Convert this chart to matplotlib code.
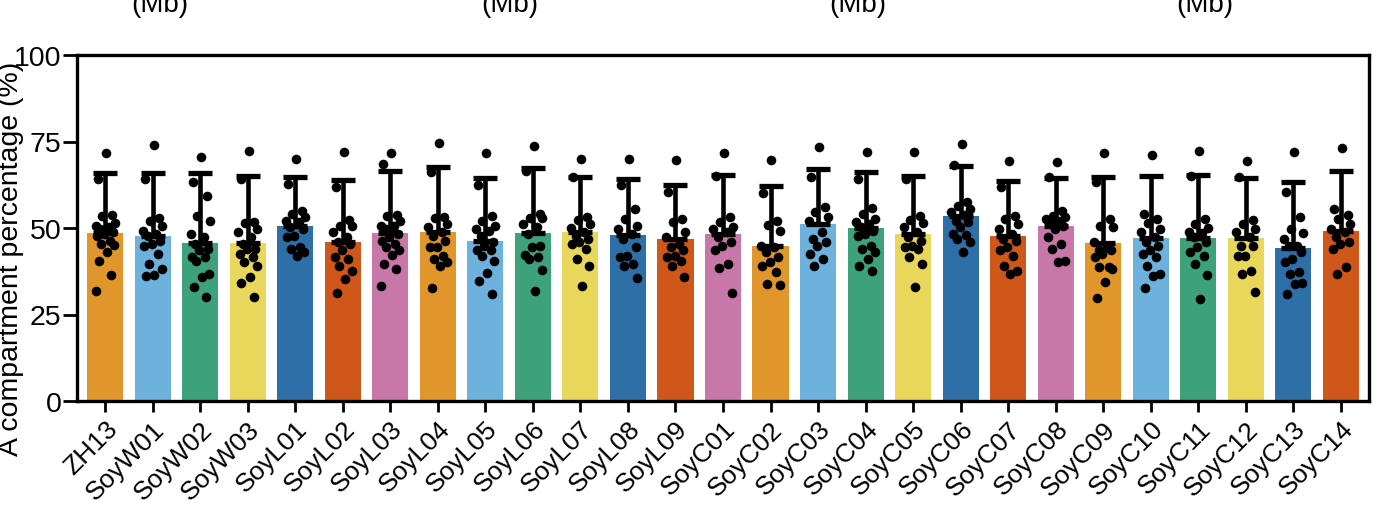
import matplotlib
matplotlib.use("Agg")
import matplotlib.pyplot as plt
import matplotlib.transforms as mtransforms
import numpy as np

plt.rcParams["font.family"] = ["Liberation Sans", "DejaVu Sans"]

samples = ["ZH13", "SoyW01", "SoyW02", "SoyW03",
           "SoyL01", "SoyL02", "SoyL03", "SoyL04", "SoyL05", "SoyL06", "SoyL07", "SoyL08", "SoyL09",
           "SoyC01", "SoyC02", "SoyC03", "SoyC04", "SoyC05", "SoyC06", "SoyC07",
           "SoyC08", "SoyC09", "SoyC10", "SoyC11", "SoyC12", "SoyC13", "SoyC14"]

# bar height (mean) and top of the error bar
means = [48.5, 47.6, 45.6, 45.6, 50.7, 46.0, 48.5, 48.7, 46.1, 48.6, 48.7, 48.0, 46.8,
         48.3, 44.8, 51.2, 50.0, 48.3, 53.4, 47.6, 50.6, 45.7, 47.0, 47.0, 47.0, 44.1, 49.2]
err_top = [65.9, 65.9, 65.9, 65.1, 64.6, 64.0, 66.4, 67.7, 64.5, 67.2, 64.6, 64.2, 62.4,
           65.3, 62.0, 67.0, 66.1, 65.1, 68.0, 63.6, 64.5, 64.6, 65.1, 65.4, 64.4, 63.4, 66.5]

# per-chromosome values for each sample (estimated dot positions)
points = [
    [71.7, 64.3, 53.7, 53.4, 51.4, 50.7, 50.2, 49.7, 48.7, 48.3, 47.8, 46.3, 45.4, 45.1, 43.2, 40.6, 36.5, 31.9],
    [74.1, 64.2, 52.8, 52.1, 50.7, 49.2, 48.3, 47.6, 46.3, 45.4, 44.9, 42.5, 39.6, 38.2, 36.5, 36.2],
    [70.4, 63.2, 59.3, 53.4, 52.1, 48.3, 47.3, 45.4, 43.9, 43.5, 41.5, 41.5, 40.6, 36.7, 35.7, 32.9, 30.0],
    [72.3, 64.2, 51.6, 51.4, 49.7, 48.7, 47.3, 45.4, 43.9, 43.9, 42.5, 41.5, 40.1, 39.1, 35.7, 34.1, 30.0],
    [69.9, 62.8, 55.0, 54.0, 53.1, 52.1, 51.6, 50.2, 49.7, 47.8, 47.3, 44.4, 44.0, 43.0, 41.8],
    [72.1, 61.8, 52.4, 50.7, 50.7, 48.7, 47.3, 45.9, 45.4, 43.5, 41.5, 41.0, 39.1, 37.5, 35.3, 31.2],
    [71.7, 68.5, 53.8, 53.4, 52.1, 50.7, 50.7, 49.7, 48.3, 47.3, 46.3, 45.4, 44.4, 43.5, 42.2, 39.6, 38.2, 33.3],
    [74.7, 66.1, 53.1, 52.8, 51.2, 50.2, 48.7, 47.8, 46.3, 44.4, 44.4, 42.0, 41.0, 40.1, 38.9, 32.6],
    [71.7, 62.4, 53.4, 52.1, 50.7, 49.7, 49.2, 47.8, 45.9, 44.9, 43.5, 43.5, 42.0, 40.6, 37.0, 34.8, 30.9],
    [73.6, 66.6, 54.0, 52.8, 52.8, 51.2, 50.2, 48.3, 44.7, 44.4, 42.2, 41.5, 40.9, 38.0, 31.7],
    [69.9, 64.6, 53.1, 52.4, 51.2, 50.0, 48.7, 47.6, 46.8, 45.9, 45.4, 43.9, 41.0, 38.9, 33.1],
    [69.9, 62.4, 55.5, 52.6, 50.7, 49.7, 48.3, 46.8, 44.4, 42.0, 41.5, 39.6, 39.1, 35.5],
    [69.6, 60.5, 52.6, 51.8, 48.7, 47.3, 45.4, 44.4, 43.5, 42.0, 41.5, 40.6, 39.1, 35.7],
    [71.7, 65.1, 53.1, 51.6, 50.2, 49.7, 48.7, 47.3, 45.9, 44.9, 43.5, 39.6, 38.4, 31.1],
    [69.6, 60.1, 52.1, 50.9, 49.2, 44.7, 44.4, 43.0, 41.5, 40.1, 39.1, 37.2, 33.8, 33.5],
    [73.3, 64.6, 56.0, 54.5, 53.1, 52.1, 48.7, 46.8, 45.9, 44.9, 42.5, 41.0, 39.1],
    [72.1, 64.3, 55.7, 54.0, 52.6, 51.6, 51.2, 50.2, 49.2, 48.3, 47.8, 44.9, 43.9, 43.0, 41.0, 39.1, 37.7],
    [72.1, 64.2, 53.4, 52.4, 51.4, 50.2, 48.7, 47.3, 46.3, 44.9, 44.4, 43.9, 41.5, 39.6, 32.9],
    [74.3, 68.2, 57.4, 56.3, 55.5, 54.5, 53.8, 52.1, 51.6, 50.2, 48.3, 48.0, 46.8, 45.9, 43.0],
    [69.5, 61.8, 53.4, 52.6, 51.2, 49.7, 48.3, 46.8, 46.3, 44.6, 43.5, 42.0, 39.1, 37.7, 36.7],
    [69.0, 64.6, 55.0, 53.4, 53.1, 52.6, 52.0, 51.2, 50.5, 49.7, 47.3, 45.4, 43.9, 40.6, 40.1],
    [71.7, 63.2, 52.6, 50.7, 50.2, 45.9, 44.4, 43.5, 43.5, 42.5, 41.5, 38.6, 38.6, 38.2, 34.3, 29.7],
    [71.2, 54.0, 52.6, 51.4, 49.7, 48.7, 47.3, 45.9, 44.9, 43.5, 42.5, 41.5, 38.9, 36.7, 36.2, 32.6],
    [72.3, 65.1, 52.6, 51.2, 50.0, 48.7, 48.5, 47.3, 45.9, 44.4, 43.0, 42.0, 39.6, 36.4, 29.5],
    [69.3, 64.6, 52.4, 51.2, 49.7, 48.7, 47.3, 44.9, 44.7, 42.0, 42.0, 37.7, 36.7, 31.4],
    [72.1, 60.3, 53.1, 49.7, 48.5, 46.8, 44.9, 44.7, 43.0, 41.0, 40.1, 37.2, 36.7, 34.1, 33.8, 30.9],
    [73.0, 55.5, 53.8, 52.6, 51.2, 49.7, 48.7, 47.3, 45.9, 45.4, 43.9, 38.6, 36.7],
]

palette = ["#E1962B", "#6CB2DC", "#3DA27B", "#E8D75B", "#2F6FA7", "#CF571A", "#C877A9"]
colors = [palette[i % len(palette)] for i in range(len(samples))]

fig = plt.figure(figsize=(13.8, 5.1), dpi=100)
ax = fig.add_axes([77 / 1380, 108 / 510, 1292 / 1380, 346 / 510])

x = np.arange(len(samples))
means = np.array(means)
err_top = np.array(err_top)

ax.bar(x, means, width=0.76, color=colors, zorder=1)
ax.errorbar(x, means, yerr=[np.zeros_like(means), err_top - means], fmt="none",
            ecolor="black", elinewidth=3.3, capsize=8.5, capthick=3.8, zorder=2)

# fixed horizontal spread of the dots inside each bar
spread = np.array([0.02, -0.15, 0.14, -0.06, 0.2, -0.2, 0.08, -0.1, 0.16, -0.02,
                   -0.17, 0.11, -0.08, 0.19, 0.04, -0.13, 0.13, -0.19])
for i, vals in enumerate(points):
    offs = spread[: len(vals)]
    ax.scatter(i + offs, vals, s=48, color="black", zorder=3, linewidths=0)

ax.set_xlim(-0.59, len(samples) - 1 + 0.59)
ax.set_ylim(0, 100)
ax.set_yticks([0, 25, 50, 75, 100])
ax.set_yticklabels(["0", "25", "50", "75", "100"])
ax.set_xticks(x)
ax.set_xticklabels(samples, rotation=45, ha="right", va="top", rotation_mode="anchor")
shift = mtransforms.ScaledTranslation(10 / 100, 0, fig.dpi_scale_trans)
for lab in ax.get_xticklabels():
    lab.set_transform(lab.get_transform() + shift)

ax.tick_params(axis="y", labelsize=20.5, length=10, width=2, pad=1)
ax.tick_params(axis="x", labelsize=19, length=8, width=2, pad=3)
for sp in ax.spines.values():
    sp.set_linewidth(2.4)

ax.set_ylabel("A compartment percentage (%)", fontsize=20.5)
ax.yaxis.set_label_coords(-0.041, 0.413)

# headers of the panel above, clipped at the top edge as in the source figure
for xp in [160, 510, 858, 1205]:
    fig.text(xp / 1380, 1 - 12 / 510, "(Mb)", fontsize=20, ha="center", va="baseline")

fig.savefig("out.png", dpi=100)
